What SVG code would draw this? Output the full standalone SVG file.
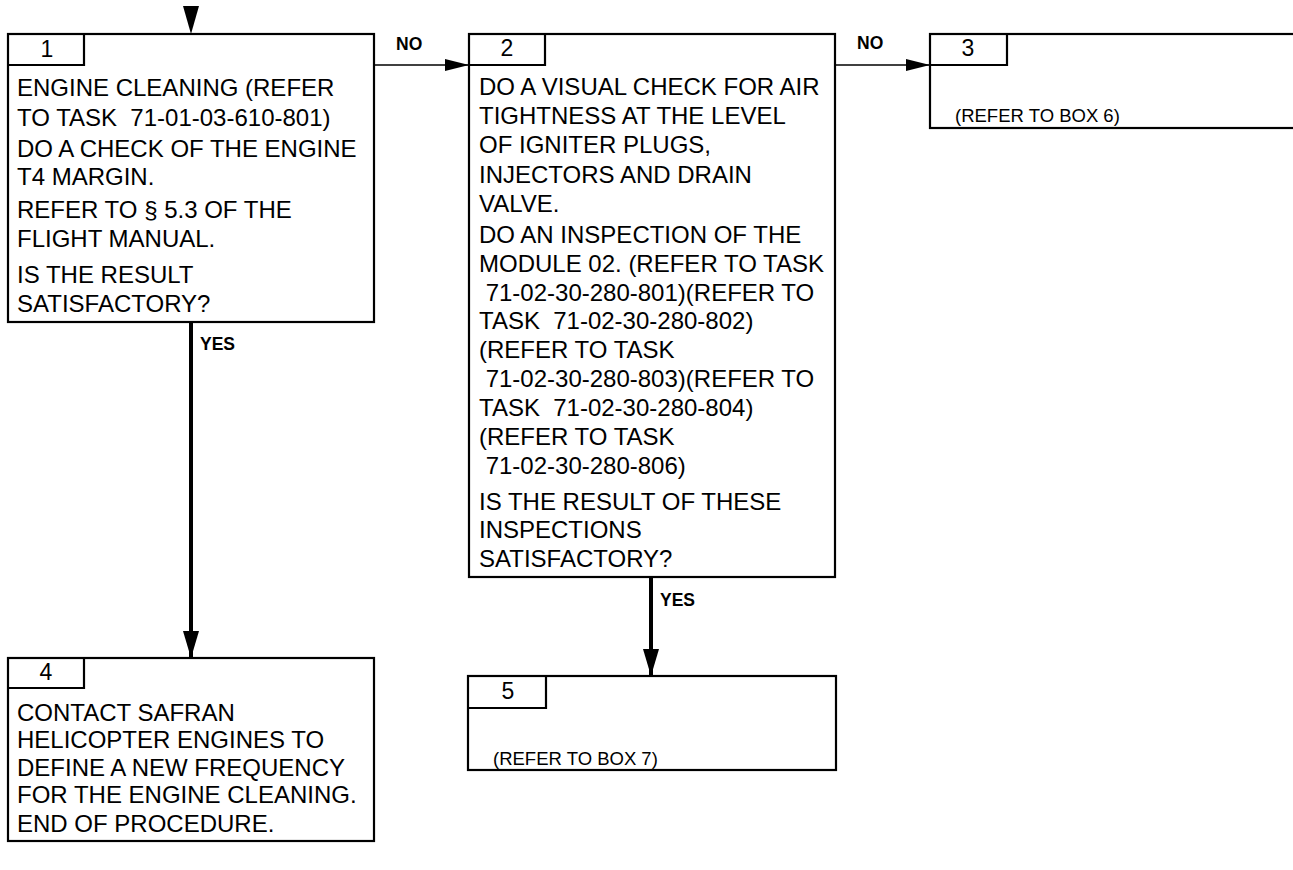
<svg xmlns="http://www.w3.org/2000/svg" width="1293" height="870" viewBox="0 0 1293 870">
<style>
.box{fill:#fff;stroke:#000;stroke-width:2.2}
.tab{fill:none;stroke:#000;stroke-width:2.2}
.t{font-family:"Liberation Sans",Arial,sans-serif;font-size:24px;fill:#000;white-space:pre}
.n{font-family:"Liberation Sans",Arial,sans-serif;font-size:23px;fill:#000;text-anchor:middle}
.r{font-family:"Liberation Sans",Arial,sans-serif;font-size:18.5px;fill:#000}
.lb{font-family:"Liberation Sans",Arial,sans-serif;font-size:17.5px;font-weight:bold;fill:#000}
.thin{fill:none;stroke:#000;stroke-width:1.7}
.thick{fill:none;stroke:#000;stroke-width:4}
</style>
<defs>
<marker id="ah" markerUnits="userSpaceOnUse" markerWidth="26" markerHeight="14" refX="24" refY="6" orient="auto">
<path d="M0,0 L24,6 L0,12 Z" fill="#000"/>
</marker>
<marker id="av" markerUnits="userSpaceOnUse" markerWidth="30" markerHeight="18" refX="27" refY="8" orient="auto">
<path d="M0,0 L27,8 L0,16 Z" fill="#000"/>
</marker>
</defs>
<rect width="1293" height="870" fill="#fff"/>

<g id="connectors">
<polygon points="183,6 199,6 191,34" fill="#000"/>
<path class="thin" d="M374,65 H469" marker-end="url(#ah)"/>
<path class="thin" d="M835,65 H930" marker-end="url(#ah)"/>
<path class="thick" d="M191,322 V658" marker-end="url(#av)"/>
<path class="thick" d="M651,577 V676" marker-end="url(#av)"/>
<text class="lb" x="396" y="50">NO</text>
<text class="lb" x="857" y="49">NO</text>
<text class="lb" x="200" y="350">YES</text>
<text class="lb" x="660" y="606">YES</text>
</g>

<g id="box1">
<rect class="box" x="8" y="34" width="366" height="288"/>
<path class="tab" d="M8,65 H84 V34"/>
<text class="n" x="47" y="57">1</text>
<text class="t" x="17" y="96">ENGINE CLEANING (REFER</text>
<text class="t" x="17" y="126">TO TASK  71-01-03-610-801)</text>
<text class="t" x="17" y="157">DO A CHECK OF THE ENGINE</text>
<text class="t" x="17" y="185">T4 MARGIN.</text>
<text class="t" x="17" y="218">REFER TO § 5.3 OF THE</text>
<text class="t" x="17" y="247">FLIGHT MANUAL.</text>
<text class="t" x="17" y="283">IS THE RESULT</text>
<text class="t" x="17" y="312">SATISFACTORY?</text>
</g>

<g id="box2">
<rect class="box" x="469" y="34" width="366" height="543"/>
<path class="tab" d="M469,65 H545 V34"/>
<text class="n" x="507" y="56">2</text>
<text class="t" x="479" y="95">DO A VISUAL CHECK FOR AIR</text>
<text class="t" x="479" y="124">TIGHTNESS AT THE LEVEL</text>
<text class="t" x="479" y="153">OF IGNITER PLUGS,</text>
<text class="t" x="479" y="183">INJECTORS AND DRAIN</text>
<text class="t" x="479" y="212">VALVE.</text>
<text class="t" x="479" y="243">DO AN INSPECTION OF THE</text>
<text class="t" x="479" y="272">MODULE 02. (REFER TO TASK</text>
<text class="t" x="479" y="301"> 71-02-30-280-801)(REFER TO</text>
<text class="t" x="479" y="329">TASK  71-02-30-280-802)</text>
<text class="t" x="479" y="358">(REFER TO TASK</text>
<text class="t" x="479" y="387"> 71-02-30-280-803)(REFER TO</text>
<text class="t" x="479" y="416">TASK  71-02-30-280-804)</text>
<text class="t" x="479" y="445">(REFER TO TASK</text>
<text class="t" x="479" y="474"> 71-02-30-280-806)</text>
<text class="t" x="479" y="510">IS THE RESULT OF THESE</text>
<text class="t" x="479" y="538">INSPECTIONS</text>
<text class="t" x="479" y="567">SATISFACTORY?</text>
</g>

<g id="box3">
<rect class="box" x="930" y="34" width="380" height="94"/>
<path class="tab" d="M930,65 H1007 V34"/>
<text class="n" x="968" y="56">3</text>
<text class="r" x="955" y="122">(REFER TO BOX 6)</text>
</g>

<g id="box4">
<rect class="box" x="8" y="658" width="366" height="183"/>
<path class="tab" d="M8,688 H84 V658"/>
<text class="n" x="46" y="680">4</text>
<text class="t" x="17" y="721">CONTACT SAFRAN</text>
<text class="t" x="17" y="748">HELICOPTER ENGINES TO</text>
<text class="t" x="17" y="776">DEFINE A NEW FREQUENCY</text>
<text class="t" x="17" y="803">FOR THE ENGINE CLEANING.</text>
<text class="t" x="17" y="832">END OF PROCEDURE.</text>
</g>

<g id="box5">
<rect class="box" x="468" y="676" width="368" height="94"/>
<path class="tab" d="M468,708 H546 V676"/>
<text class="n" x="508" y="699">5</text>
<text class="r" x="493" y="765">(REFER TO BOX 7)</text>
</g>
</svg>
